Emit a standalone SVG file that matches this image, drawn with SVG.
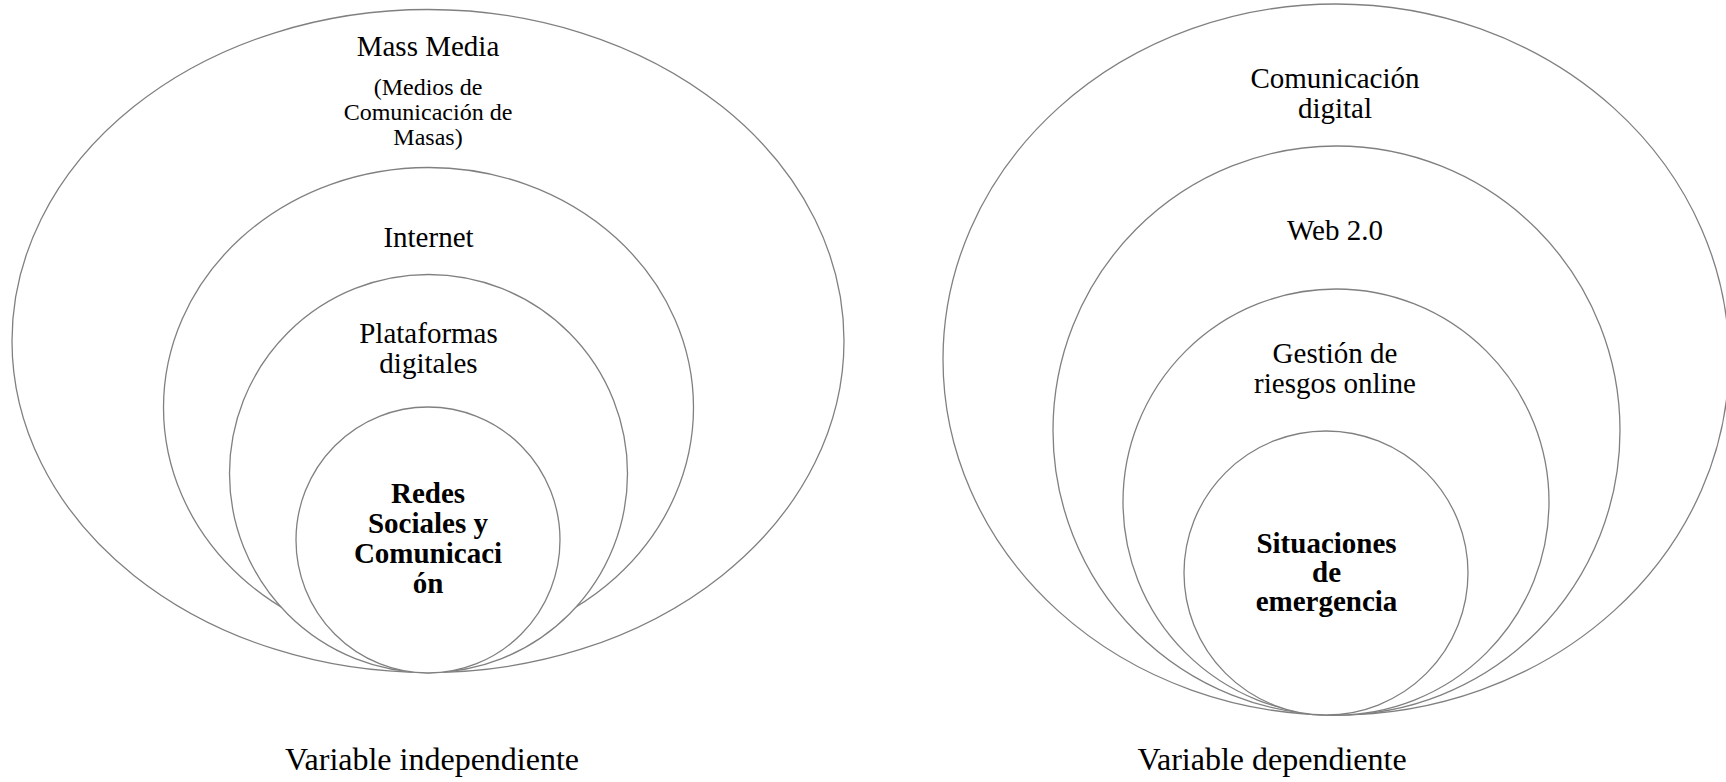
<svg xmlns="http://www.w3.org/2000/svg" width="1726" height="782" viewBox="0 0 1726 782">
<style>
.ring{fill:#ffffff;stroke:#808080;stroke-width:1.3}
.t{font-family:"Liberation Serif","Times New Roman",serif;font-size:29px;fill:#000;text-anchor:middle}
.s{font-size:24px}
.b{font-weight:bold}
.lab{font-size:32px}
</style>
<rect width="1726" height="782" fill="#ffffff"/>
<g id="mass-media">
<ellipse class="ring" cx="428" cy="341" rx="416" ry="331.5"/>
<text class="t" x="428" y="56">Mass Media</text>
<text class="t s" x="428" y="95">(Medios de</text>
<text class="t s" x="428" y="120">Comunicación de</text>
<text class="t s" x="428" y="145">Masas)</text>
</g>
<g id="internet">
<ellipse class="ring" cx="428.5" cy="407.5" rx="265" ry="240"/>
<text class="t" x="428.5" y="247">Internet</text>
</g>
<g id="plataformas">
<ellipse class="ring" cx="428.5" cy="473.5" rx="199" ry="199"/>
<text class="t" x="428.5" y="343">Plataformas</text>
<text class="t" x="428.5" y="373">digitales</text>
</g>
<g id="redes">
<ellipse class="ring" cx="428" cy="540" rx="132" ry="133"/>
<text class="t b" x="428" y="503">Redes</text>
<text class="t b" x="428" y="533">Sociales y</text>
<text class="t b" x="428" y="563">Comunicaci</text>
<text class="t b" x="428" y="593">ón</text>
</g>
<g id="comunicacion-digital">
<ellipse class="ring" cx="1336" cy="359.5" rx="393" ry="355.5"/>
<text class="t" x="1335" y="88">Comunicación</text>
<text class="t" x="1335" y="118">digital</text>
</g>
<g id="web20">
<ellipse class="ring" cx="1336.5" cy="430.5" rx="283.5" ry="284.5"/>
<text class="t" x="1335" y="240">Web 2.0</text>
</g>
<g id="gestion">
<ellipse class="ring" cx="1336" cy="502" rx="213" ry="213"/>
<text class="t" x="1335" y="363">Gestión de</text>
<text class="t" x="1335" y="393">riesgos online</text>
</g>
<g id="situaciones">
<ellipse class="ring" cx="1326" cy="573" rx="142" ry="142"/>
<text class="t b" x="1326.5" y="553">Situaciones</text>
<text class="t b" x="1326.5" y="582">de</text>
<text class="t b" x="1326.5" y="611">emergencia</text>
</g>
<g id="labels">
<text class="t lab" x="432" y="770">Variable independiente</text>
<text class="t lab" x="1272" y="770">Variable dependiente</text>
</g>
</svg>
